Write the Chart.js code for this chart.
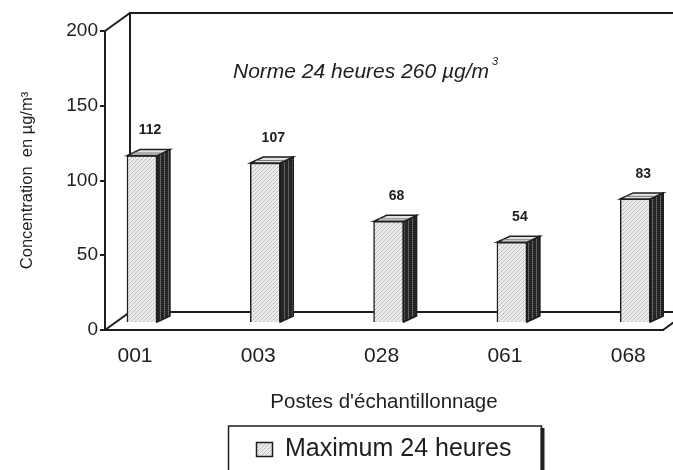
<!DOCTYPE html>
<html>
<head>
<meta charset="utf-8">
<script src="https://cdn.jsdelivr.net/npm/chart.js@4"></script>
<style>
  html, body { margin: 0; padding: 0; background: #ffffff; }
  #wrap { width: 673px; height: 470px; position: relative; }
</style>
</head>
<body>
<div id="wrap"><canvas id="chart"></canvas></div>
<script>
// Sampling stations and their maximum 24-hour concentrations (µg/m³)
const categories = ['001', '003', '028', '061', '068'];
const maxima = [112, 107, 68, 54, 83];
const yTicks = [0, 50, 100, 150, 200];
const seriesLabel = 'Maximum 24 heures';
const xTitle = "Postes d'échantillonnage";
const yTitle = 'Concentration  en µg/m³';
const normText = 'Norme 24 heures 260 µg/m';
const normSup = '3';

const FONT = '"Liberation Sans", Arial, Helvetica, sans-serif';
const INK = '#1e1e1e';

// depth of the back wall and of each bar (pseudo 3-D)
const WALL = { dx: 25, dy: -18 };
const BAR = { dx: 13, dy: -6, shiftX: 7, shiftY: -7 };

function makePattern(w, h, paint) {
  const c = document.createElement('canvas');
  c.width = w; c.height = h;
  const g = c.getContext('2d');
  paint(g);
  return g.createPattern(c, 'repeat');
}
const stipple = makePattern(4, 4, g => {
  g.fillStyle = '#ececec'; g.fillRect(0, 0, 4, 4);
  g.fillStyle = '#b0b0b0'; g.fillRect(0, 0, 1, 1); g.fillRect(2, 2, 1, 1);
  g.fillStyle = '#cdcdcd'; g.fillRect(1, 3, 1, 1); g.fillRect(3, 1, 1, 1);
});
const sideStripes = makePattern(4, 2, g => {
  g.fillStyle = '#262626'; g.fillRect(0, 0, 4, 2);
  g.fillStyle = '#767676'; g.fillRect(1, 0, 1, 1);
  g.fillStyle = '#4c4c4c'; g.fillRect(1, 1, 1, 1);
});

const box3d = {
  id: 'box3d',
  beforeDatasetsDraw(chart) {
    const { ctx, chartArea: a } = chart;
    ctx.save();
    ctx.strokeStyle = INK;
    ctx.lineWidth = 2;
    ctx.beginPath();
    // top-left diagonal and back wall outline
    ctx.moveTo(a.left, a.top);
    ctx.lineTo(a.left + WALL.dx, a.top + WALL.dy);
    ctx.lineTo(a.right + WALL.dx + 40, a.top + WALL.dy);
    ctx.moveTo(a.left + WALL.dx, a.top + WALL.dy);
    ctx.lineTo(a.left + WALL.dx, a.bottom + WALL.dy);
    // floor: back edge and side diagonals
    ctx.moveTo(a.left, a.bottom);
    ctx.lineTo(a.left + WALL.dx, a.bottom + WALL.dy);
    ctx.lineTo(a.right + WALL.dx + 40, a.bottom + WALL.dy);
    ctx.moveTo(a.right, a.bottom);
    ctx.lineTo(a.right + WALL.dx, a.bottom + WALL.dy);
    ctx.stroke();
    ctx.restore();

    // bars stand in the middle of the floor depth
    ctx.save();
    ctx.translate(BAR.shiftX, BAR.shiftY);
  },
  afterDatasetsDraw(chart) {
    const { ctx } = chart;
    const meta = chart.getDatasetMeta(0);
    meta.data.forEach((bar, i) => {
      const { x, y, base, width } = bar.getProps(['x', 'y', 'base', 'width'], true);
      const l = x - width / 2, r = x + width / 2;
      ctx.lineWidth = 1.5;
      ctx.strokeStyle = INK;
      // side face
      ctx.beginPath();
      ctx.moveTo(r, y);
      ctx.lineTo(r + BAR.dx, y + BAR.dy);
      ctx.lineTo(r + BAR.dx, base + BAR.dy);
      ctx.lineTo(r, base);
      ctx.closePath();
      ctx.fillStyle = sideStripes;
      ctx.fill();
      ctx.stroke();
      // top face
      ctx.beginPath();
      ctx.moveTo(l, y);
      ctx.lineTo(l + BAR.dx, y + BAR.dy);
      ctx.lineTo(r + BAR.dx, y + BAR.dy);
      ctx.lineTo(r, y);
      ctx.closePath();
      ctx.fillStyle = '#e2e2e2';
      ctx.fill();
      ctx.stroke();
      ctx.beginPath();
      ctx.moveTo(l + 6, y - 2.5);
      ctx.lineTo(r + 4, y - 2.5);
      ctx.strokeStyle = '#777';
      ctx.lineWidth = 1;
      ctx.stroke();
      // value label
      ctx.fillStyle = INK;
      ctx.font = 'bold 14px ' + FONT;
      ctx.textAlign = 'center';
      ctx.textBaseline = 'middle';
      ctx.fillText(String(maxima[i]), x + 8, y - 25);
    });
    ctx.restore();
  },
  afterDraw(chart) {
    const { ctx, chartArea: a } = chart;
    // norm annotation
    ctx.save();
    ctx.fillStyle = INK;
    ctx.font = 'italic 21px ' + FONT;
    ctx.textAlign = 'left';
    ctx.textBaseline = 'middle';
    const nx = a.left + 128, ny = a.top + 41;
    ctx.fillText(normText, nx, ny);
    const w = ctx.measureText(normText).width;
    ctx.font = 'italic 11px ' + FONT;
    ctx.fillText(normSup, nx + w + 3, ny - 10);
    ctx.restore();

    // framed legend with a shadowed right edge
    const hb = chart.legend && chart.legend.legendHitBoxes && chart.legend.legendHitBoxes[0];
    if (hb) {
      const x0 = hb.left - 28, x1 = hb.left + hb.width + 30;
      const y0 = hb.top - 11, y1 = chart.height + 5;
      ctx.save();
      ctx.strokeStyle = INK;
      ctx.lineWidth = 1.5;
      ctx.strokeRect(x0, y0, x1 - x0, y1 - y0);
      ctx.fillStyle = INK;
      ctx.fillRect(x1 - 1, y0 + 2, 4, y1 - y0);
      ctx.restore();
    }
  }
};

new Chart(document.getElementById('chart'), {
  type: 'bar',
  data: {
    datasets: [{
      label: seriesLabel,
      data: categories.map((c, i) => ({ x: i, y: maxima[i] })),
      backgroundColor: stipple,
      borderColor: INK,
      borderWidth: 1.5,
      barThickness: 30,
      clip: false
    }]
  },
  options: {
    responsive: true,
    maintainAspectRatio: false,
    animation: false,
    layout: { padding: { top: 31, right: 10, bottom: -2, left: 0 } },
    plugins: {
      tooltip: { enabled: false },
      legend: {
        position: 'bottom',
        fullSize: false,
        labels: {
          color: INK,
          font: { family: FONT, size: 25 },
          boxWidth: 16,
          boxHeight: 14,
          padding: 10
        }
      }
    },
    scales: {
      x: {
        type: 'linear',
        offset: false,
        min: -0.243,
        max: 4.282,
        afterBuildTicks: s => { s.ticks = categories.map((c, i) => ({ value: i })); },
        afterFit: s => { s.height = 97; },
        ticks: {
          callback: v => categories[v],
          color: INK,
          font: { family: FONT, size: 21 },
          padding: 6,
          autoSkip: false,
          maxRotation: 0
        },
        grid: { display: false },
        border: { color: INK, width: 2 },
        title: {
          display: true,
          text: xTitle,
          color: INK,
          font: { family: FONT, size: 20.5 },
          padding: { top: 0, bottom: 12 }
        }
      },
      y: {
        min: 0,
        max: 200,
        afterBuildTicks: s => { s.ticks = yTicks.map(v => ({ value: v })); },
        afterFit: s => { s.width = 105; },
        ticks: {
          color: INK,
          font: { family: FONT, size: 19 },
          padding: 2
        },
        grid: { drawOnChartArea: false, tickLength: 5, color: INK, lineWidth: 2 },
        border: { color: INK, width: 2 },
        title: {
          display: true,
          text: yTitle,
          color: INK,
          font: { family: FONT, size: 16.5 },
          padding: { top: 18, bottom: 0 }
        }
      }
    }
  },
  plugins: [box3d]
});
</script>
</body>
</html>
